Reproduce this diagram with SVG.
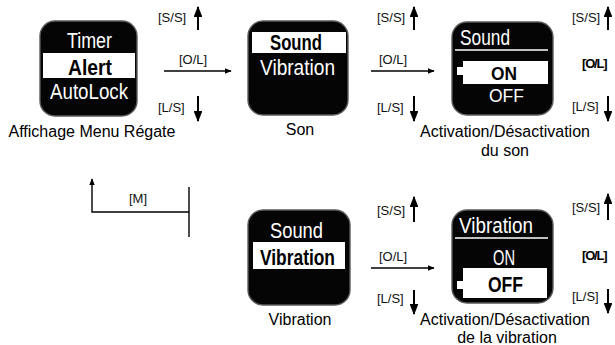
<svg xmlns="http://www.w3.org/2000/svg" width="615" height="345" viewBox="0 0 615 345">
<style>
.scr{fill:#050505;stroke:#5a5a5a;stroke-width:1.4}
.lcd{font-family:"Liberation Sans Narrow","Liberation Sans",sans-serif;font-size:22px}
.lcdb{font-family:"Liberation Sans Narrow","Liberation Sans",sans-serif;font-size:22px;font-weight:bold}
.sm{font-size:18.5px}
.w{fill:#fff}
.k{fill:#000}
.lbl{font-family:"Liberation Sans",Arial,sans-serif;font-size:16px;fill:#000;text-anchor:middle}
.key{font-family:"Liberation Sans",Arial,sans-serif;font-size:13px;fill:#111}
.keyb{font-family:"Liberation Sans",Arial,sans-serif;font-size:13px;font-weight:bold;fill:#000;letter-spacing:-1.2px}
.ln{stroke:#000;stroke-width:1.4;fill:none}
.vl{stroke:#000;stroke-width:2;fill:none}
.ul{stroke:#fff;stroke-width:1.6}
</style>
<defs>
<marker id="ah" viewBox="0 0 10 8" refX="9" refY="4" markerWidth="7" markerHeight="5.6" markerUnits="userSpaceOnUse" orient="auto">
<path d="M0,0 L10,4 L0,8 z" fill="#000"/>
</marker>
<marker id="av" viewBox="0 0 10 8" refX="9" refY="4" markerWidth="11" markerHeight="8.8" markerUnits="userSpaceOnUse" orient="auto">
<path d="M0,0 L10,4 L0,8 z" fill="#000"/>
</marker>
</defs>

<g id="node-menu">
<rect class="scr" x="40" y="21" width="97" height="95" rx="15"/>
<text class="lcd w" x="89.5" y="48" text-anchor="middle" textLength="45" lengthAdjust="spacingAndGlyphs">Timer</text>
<rect class="w" x="43" y="53" width="92" height="25"/>
<text class="lcdb k" x="90" y="75" text-anchor="middle" textLength="44" lengthAdjust="spacingAndGlyphs">Alert</text>
<text class="lcd w" x="89" y="99" text-anchor="middle" textLength="78" lengthAdjust="spacingAndGlyphs">AutoLock</text>
<text class="lbl" x="92" y="137">Affichage Menu Régate</text>
</g>

<g id="node-son">
<rect class="scr" x="248" y="21" width="100" height="94" rx="15"/>
<rect class="w" x="252" y="32" width="94" height="21"/>
<text class="lcdb k" x="296" y="50" text-anchor="middle" textLength="52" lengthAdjust="spacingAndGlyphs">Sound</text>
<text class="lcd w" x="297.5" y="75" text-anchor="middle" textLength="75" lengthAdjust="spacingAndGlyphs">Vibration</text>
<text class="lbl" x="300" y="134.5">Son</text>
</g>

<g id="node-son-onoff">
<rect class="scr" x="452" y="22" width="101" height="93" rx="15"/>
<text class="lcd w" x="460" y="45" textLength="50" lengthAdjust="spacingAndGlyphs">Sound</text>
<line class="ul" x1="455" y1="50" x2="548" y2="50"/>
<rect class="w" x="457" y="67" width="6" height="8"/>
<rect class="w" x="463" y="61" width="85" height="23"/>
<text class="lcdb k sm" x="504" y="80" text-anchor="middle" textLength="26" lengthAdjust="spacingAndGlyphs">ON</text>
<text class="lcd w sm" x="506.5" y="102" text-anchor="middle" textLength="35" lengthAdjust="spacingAndGlyphs">OFF</text>
<text class="lbl" x="505" y="137">Activation/Désactivation</text>
<text class="lbl" x="505" y="156">du son</text>
</g>

<g id="node-vibration">
<rect class="scr" x="248" y="210" width="102" height="95" rx="15"/>
<text class="lcd w" x="296.5" y="238" text-anchor="middle" textLength="53" lengthAdjust="spacingAndGlyphs">Sound</text>
<rect class="w" x="253" y="242" width="92" height="27"/>
<text class="lcdb k" x="297.5" y="265" text-anchor="middle" textLength="75" lengthAdjust="spacingAndGlyphs">Vibration</text>
<text class="lbl" x="300" y="325">Vibration</text>
</g>

<g id="node-vibration-onoff">
<rect class="scr" x="452" y="210" width="101" height="93" rx="15"/>
<text class="lcd w" x="459" y="233" textLength="74" lengthAdjust="spacingAndGlyphs">Vibration</text>
<line class="ul" x1="455" y1="238" x2="548" y2="238"/>
<text class="lcd w" x="504" y="265" text-anchor="middle" textLength="22" lengthAdjust="spacingAndGlyphs">ON</text>
<rect class="w" x="457" y="281" width="6" height="8"/>
<rect class="w" x="463" y="268" width="84" height="30"/>
<text class="lcdb k" x="505.5" y="292" text-anchor="middle" textLength="35" lengthAdjust="spacingAndGlyphs">OFF</text>
<text class="lbl" x="505" y="325">Activation/Désactivation</text>
<text class="lbl" x="507" y="343">de la vibration</text>
</g>

<g id="connectors">
<!-- menu -> son -->
<text class="key" x="158" y="22">[S/S]</text>
<path class="vl" d="M198,30 V7" marker-end="url(#av)"/>
<text class="key" x="179" y="64">[O/L]</text>
<path class="ln" d="M164,71 H231" marker-end="url(#ah)"/>
<text class="key" x="158" y="112">[L/S]</text>
<path class="vl" d="M198,96 V121" marker-end="url(#av)"/>

<!-- son -> son on/off -->
<text class="key" x="377" y="22">[S/S]</text>
<path class="vl" d="M414,30 V7" marker-end="url(#av)"/>
<text class="key" x="379" y="64">[O/L]</text>
<path class="ln" d="M371,71 H434" marker-end="url(#ah)"/>
<text class="key" x="377" y="112">[L/S]</text>
<path class="vl" d="M414,96 V121" marker-end="url(#av)"/>

<!-- son on/off right keys -->
<text class="key" x="572" y="22">[S/S]</text>
<path class="vl" d="M608,30 V7" marker-end="url(#av)"/>
<text class="keyb" x="582" y="68">[O/L]</text>
<text class="key" x="572" y="111">[L/S]</text>
<path class="vl" d="M608,96 V121" marker-end="url(#av)"/>

<!-- back [M] -->
<path class="ln" d="M189,187 V237"/>
<path class="ln" d="M189,212 H92 V179" marker-end="url(#ah)"/>
<text class="key" x="129" y="203">[M]</text>

<!-- vibration -> vibration on/off -->
<text class="key" x="377" y="215">[S/S]</text>
<path class="vl" d="M414,222 V197" marker-end="url(#av)"/>
<text class="key" x="379" y="261">[O/L]</text>
<path class="ln" d="M371,268 H434" marker-end="url(#ah)"/>
<text class="key" x="377" y="303">[L/S]</text>
<path class="vl" d="M414,290 V314" marker-end="url(#av)"/>

<!-- vibration on/off right keys -->
<text class="key" x="572" y="212">[S/S]</text>
<path class="vl" d="M608,220 V194" marker-end="url(#av)"/>
<text class="keyb" x="582" y="260">[O/L]</text>
<text class="key" x="572" y="301">[L/S]</text>
<path class="vl" d="M608,289 V313" marker-end="url(#av)"/>
</g>
</svg>
